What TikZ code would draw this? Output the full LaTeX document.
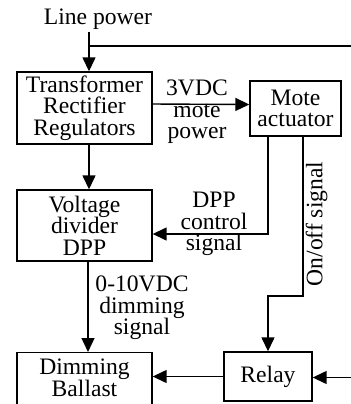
\documentclass[tikz,border=0pt]{standalone}
\usepackage{fontspec}
\setmainfont{Liberation Serif}
\usetikzlibrary{arrows.meta}

\begin{document}
\begin{tikzpicture}[x=0.5pt, y=-0.5pt, >={Triangle[length=7pt,width=6.5pt]}, line width=0.7pt,
    every node/.style={font=\fontsize{11.8}{10.8}\selectfont, align=center},
    blk/.style={draw, inner sep=0pt}]
    \useasboundingbox (0,0) rectangle (351,404);

    \node[inner sep=0.5pt] (lp) at (98,19.5) {Line power};
    \node[blk,minimum width=67.5pt,minimum height=36pt] (tr) at (84.5,108) {Transformer\\Rectifier\\Regulators};
    \node[blk,minimum width=45.5pt,minimum height=27.5pt] (mote) at (295.5,108.5) {Mote\\actuator};
    \node[blk,minimum width=67.5pt,minimum height=35.5pt] (vd) at (84.5,225.5) {Voltage\\divider\\DPP};
    \node[blk,minimum width=67.5pt,minimum height=36pt,anchor=north] (bal) at (84.5,352) {Dimming\\Ballast\\\mbox{}};
    \node[blk,minimum width=44pt,minimum height=24.5pt] (rel) at (268,376.5) {Relay};

    \node (mp) at (197,112) {3VDC\\mote\\power};
    \node (dc) at (214,224) {DPP\\control\\signal};
    \node (dim) at (142,308) {0-10VDC\\dimming\\signal};
    \node[rotate=90,anchor=north,inner sep=1pt] (oo) at (303,224) {On/off signal};

    \coordinate (tap) at (89,46);
    \coordinate (te) at (351,46);
    \coordinate (re) at (351,377.5);

    \draw[->] (89,0 |- lp.south) -- (89,0 |- tr.north);
    \draw (tap) -- (te);
    \draw[->] ([yshift=2pt]tr.east) -- ([yshift=2pt]mote.west);
    \draw[->] (89,0 |- tr.south) -- (89,0 |- vd.north);
    \draw[->] (268,0 |- mote.south) |- (vd.east |- 0,234);
    \draw[->] (303,0 |- mote.south) -- (303,296) -| (rel.north);
    \draw[->] (88,0 |- vd.south) -- (88,0 |- bal.north);
    \draw[->] (rel.west) -- (bal.east |- rel.west);
    \draw[->] (re) -- (re -| rel.east);
\end{tikzpicture}
\end{document}
